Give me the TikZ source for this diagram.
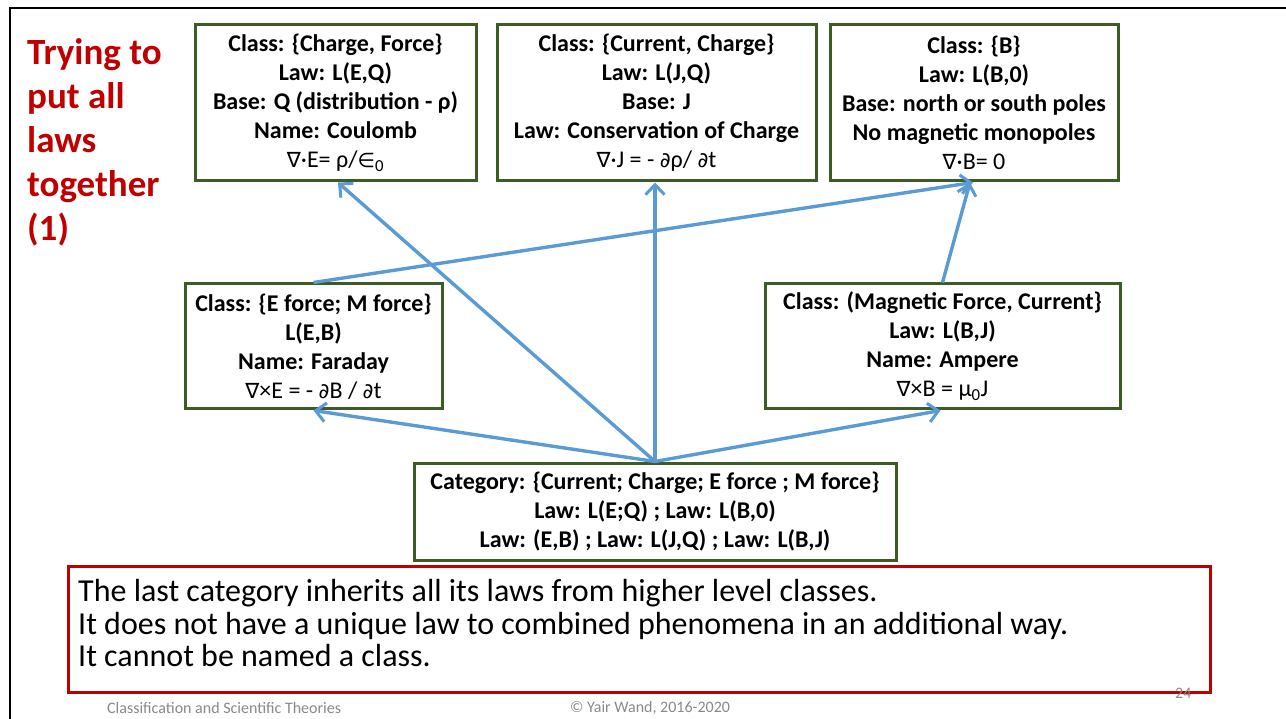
\documentclass[tikz,border=0pt]{standalone}
\usepackage{fontspec}
\setmainfont{Carlito}
\newfontfamily\symf{DejaVu Sans}
\usetikzlibrary{arrows.meta,calc}
\definecolor{boxgreen}{RGB}{60,92,38}
\definecolor{arrowblue}{RGB}{91,155,213}
\definecolor{titlered}{RGB}{192,0,0}
\definecolor{footgray}{RGB}{137,137,137}
\newcommand{\nab}{{\symf\fontsize{21}{29}\selectfont ∇}}
\newcommand{\prt}{{\symf\fontsize{21}{29}\selectfont ∂}}
\newcommand{\elm}{{\symf\fontsize{20}{29}\selectfont ∈}}
\tikzset{
  lawbox/.style={draw=boxgreen, line width=3pt, inner sep=0pt, align=center,
    font=\fontsize{24}{29}\selectfont\bfseries},
  arr/.style={draw=arrowblue, line width=3.4pt,
    -{Straight Barb[length=10pt,width=19pt,line width=3pt]}},
  foot/.style={text=footgray, font=\fontsize{16}{18}\selectfont, inner sep=0pt}
}
\begin{document}
\begin{tikzpicture}[x=1pt,y=-1pt]
\useasboundingbox (0,0) rectangle (1286,719);
% slide frame
\draw[line width=2.6pt] (10,719) -- (10,8) -- (1286,8);

% title
\node[anchor=north west, align=left, text=titlered, inner sep=0pt,
  font=\fontsize{37}{44}\selectfont\bfseries] (title) at (27,38)
  {Trying to\\put all\\laws\\together\\(1)};

% top level classes
\node[lawbox, minimum width=281, minimum height=156] (c1) at (335.5,103)
  {Class: \{Charge, Force\}\\Law: L(E,Q)\\Base: Q (distribution - ρ)\\Name: Coulomb\\
   \mdseries\nab·E= ρ/\elm\textsubscript{0}};
\node[lawbox, minimum width=319, minimum height=156] (c2) at (656.5,103)
  {Class: \{Current, Charge\}\\Law: L(J,Q)\\Base: J\\Law: Conservation of Charge\\
   \mdseries\nab·J = - \prt ρ/ \prt t};
\node[lawbox, minimum width=288, minimum height=156] (c3) at (974,103)
  {Class: \{B\}\\Law: L(B,0)\\Base: north or south poles\\No magnetic monopoles\\
   \mdseries\nab·B= 0};

% middle level classes
\node[lawbox, minimum width=257, minimum height=125] (c4) at (313.5,346.5)
  {Class: \{E force; M force\}\\L(E,B)\\Name: Faraday\\
   \mdseries\nab×E = - \prt B / \prt t};
\node[lawbox, minimum width=355, minimum height=125] (c5) at (942.5,346.5)
  {Class: (Magnetic Force, Current\}\\Law: L(B,J)\\Name: Ampere\\
   \mdseries\nab×B = μ\textsubscript{0}J};

% bottom category
\node[lawbox, minimum width=482, minimum height=97] (cat) at (655,511.5)
  {Category: \{Current; Charge; E force ; M force\}\\Law: L(E;Q) ; Law: L(B,0)\\
   Law: (E,B) ; Law: L(J,Q) ; Law: L(B,J)};

% inheritance arrows
\draw[arr] (cat.north) -- ([xshift=2.5pt]c1.south);
\draw[arr] (cat.north) -- (cat.north |- c2.south);
\draw[arr] (cat.north) -- (c4.south);
\draw[arr] (cat.north) -- ([xshift=-2pt]c5.south);
\draw[arr] (c4.north) -- ([xshift=-1pt]c3.south);
\draw[arr] (c5.north) -- ([xshift=-4pt]c3.south);

% remark
\node[draw=titlered, line width=3pt, minimum width=1142, minimum height=126,
  inner sep=0pt] (note) at (639,629) {};
\node[anchor=west, align=left, inner sep=0pt,
  font=\fontsize{32}{32.5}\selectfont] (notetext) at (78,623.5)
  {The last category inherits all its laws from higher level classes.\\
   It does not have a unique law to combined phenomena in an additional way.\\
   It cannot be named a class.};

% footer
\node[foot, anchor=west] (f1) at (107,708) {Classification and Scientific Theories};
\node[foot, anchor=west] (f2) at (570,708) {© Yair Wand, 2016-2020};
\node[foot, anchor=west] (f3) at (1175,693) {24};
\end{tikzpicture}
\end{document}
